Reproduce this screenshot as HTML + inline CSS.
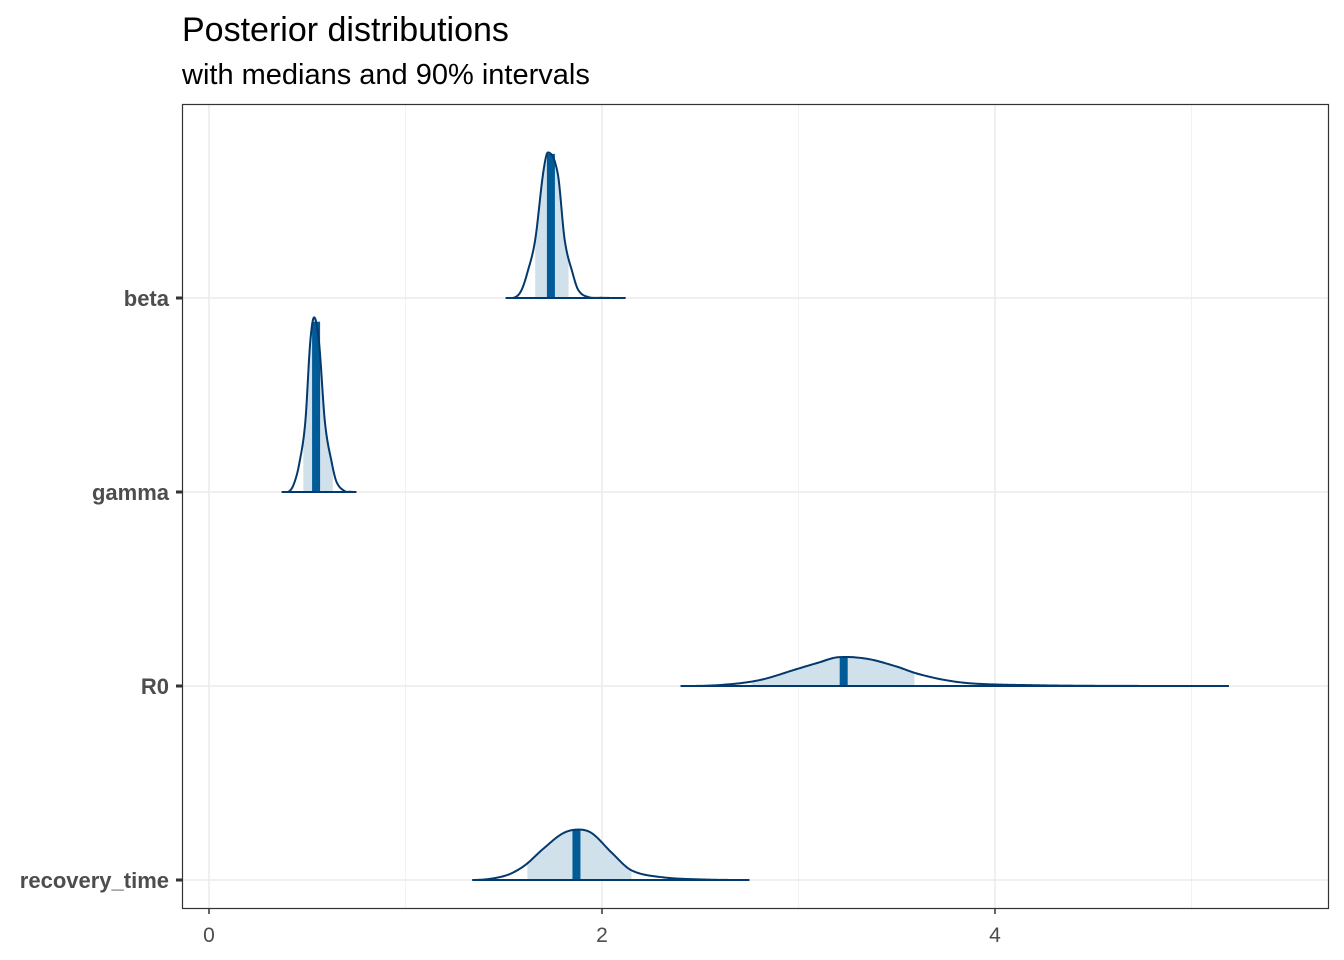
<!DOCTYPE html>
<html><head><meta charset="utf-8"><style>
body{margin:0;background:#fff;}
svg{display:block;font-family:"Liberation Sans",Arial,sans-serif;}
</style></head><body>
<svg id="chart" width="1344" height="960" viewBox="0 0 1344 960">
<rect width="1344" height="960" fill="#fff"/>
<text x="182" y="41" font-size="34" fill="#000">Posterior distributions</text>
<text x="182" y="84" font-size="29" fill="#000">with medians and 90% intervals</text>
<g id="grid"></g>
<g id="marks"></g>
<rect x="182.5" y="104.5" width="1146" height="804" fill="none" stroke="#333" stroke-width="1.2"/>
<g id="axes"></g>
</svg>
<script>
const params=["beta","gamma","R0","recovery_time"];
const xTicks=[0,2,4];
const betaX=[1.51,1.56,1.59,1.62,1.66,1.70,1.725,1.775,1.81,1.85,1.88,1.93,2.0,2.12];
const betaD=[0,0.005,0.04,0.13,0.3,0.64,0.75,0.64,0.3,0.13,0.04,0.005,0.001,0];
const gammaX=[0.37,0.41,0.435,0.46,0.49,0.515,0.535,0.56,0.59,0.625,0.65,0.69,0.72,0.75];
const gammaD=[0,0.005,0.05,0.15,0.36,0.77,0.9,0.77,0.36,0.15,0.05,0.005,0.001,0];
const r0X=[2.4,2.6,2.8,3.0,3.1,3.2,3.35,3.5,3.6,3.75,3.9,4.2,4.5,5.19];
const r0D=[0,0.005,0.03,0.09,0.12,0.148,0.14,0.1,0.065,0.03,0.012,0.004,0.001,0];
const recX=[1.34,1.5,1.6,1.7,1.8,1.88,1.95,2.05,2.15,2.3,2.5,2.75];
const recD=[0,0.02,0.07,0.16,0.24,0.26,0.24,0.14,0.05,0.015,0.003,0];
const medians=[1.74,0.545,3.23,1.87];
const lower90=[1.66,0.48,2.76,1.62];
const upper90=[1.83,0.63,3.59,2.15];

const NS="http://www.w3.org/2000/svg";
const xs=v=>209+v*196.5;
const rowY=i=>298+i*194;
const hs=d=>d*194;
function el(t,a,p){const e=document.createElementNS(NS,t);for(const k in a)e.setAttribute(k,a[k]);p.appendChild(e);return e;}
const grid=document.getElementById('grid'),marks=document.getElementById('marks'),axes=document.getElementById('axes');
[1,3,5].forEach(v=>{const l=el('line',{x1:xs(v),x2:xs(v),y1:104,y2:908,stroke:'#f2f2f2','stroke-width':1},grid);

});
xTicks.forEach(v=>{const l=el('line',{x1:xs(v),x2:xs(v),y1:104,y2:908,stroke:'#ebebeb','stroke-width':1.5},grid);

});
params.forEach((p,i)=>{const l=el('line',{x1:182,x2:1328,y1:rowY(i),y2:rowY(i),stroke:'#ebebeb','stroke-width':1.5},grid);

});
function interp(X,D,x){
 const n=X.length;
 if(x<=X[0])return D[0];if(x>=X[n-1])return D[n-1];
 let k=1;while(x>X[k])k++;
 const x0=X[k-1],x1=X[k],y0=D[k-1],y1=D[k];
 const m=j=>{if(j<=0||j>=n-1)return 0;return (D[j+1]-D[j-1])/(X[j+1]-X[j-1]);};
 const h=x1-x0,t=(x-x0)/h;
 const m0=m(k-1)*h,m1=m(k)*h;
 const t2=t*t,t3=t2*t;
 const v=(2*t3-3*t2+1)*y0+(t3-2*t2+t)*m0+(-2*t3+3*t2)*y1+(t3-t2)*m1;
 return Math.max(0,v);
}
const series=[[betaX,betaD],[gammaX,gammaD],[r0X,r0D],[recX,recD]];
series.forEach(([X,D],i)=>{
 const y0=rowY(i);const g=el('g',{},marks);
 
 
 const N=300;const pts=[];
 for(let k=0;k<=N;k++){const x=X[0]+(X[X.length-1]-X[0])*k/N;pts.push([x,interp(X,D,x)]);}
 const ip=[];const lo=lower90[i],hi=upper90[i];
 for(let k=0;k<=80;k++){const x=lo+(hi-lo)*k/80;ip.push(xs(x)+','+(y0-hs(interp(X,D,x))));}
 const a=el('polygon',{points:xs(lo)+','+y0+' '+ip.join(' ')+' '+xs(hi)+','+y0,fill:'#d1e1ec'},g);
 
 
 const m=medians[i];const mh=hs(interp(X,D,m));
 const r=el('rect',{x:xs(m)-4,y:y0-mh,width:8,height:mh,fill:'#005b96'},g);
 
 
 const pl=el('polyline',{points:pts.map(q=>xs(q[0])+','+(y0-hs(q[1]))).join(' '),fill:'none',stroke:'#03396c','stroke-width':2},g);
 
 
 const b=el('line',{x1:xs(X[0]),x2:xs(X[X.length-1]),y1:y0,y2:y0,stroke:'#03396c','stroke-width':2},g);
 
 
});
params.forEach((p,i)=>{
 const t=el('line',{x1:176,x2:182,y1:rowY(i),y2:rowY(i),stroke:'#333','stroke-width':3},axes);
 
 
 const tx=el('text',{x:169,y:rowY(i)+8,'text-anchor':'end','font-size':22,'font-weight':'bold',fill:'#4d4d4d'},axes);
 tx.textContent=p;
 
 
});
xTicks.forEach(v=>{
 const t=el('line',{x1:xs(v),x2:xs(v),y1:908,y2:914,stroke:'#333','stroke-width':1.5},axes);
 
 
 const tx=el('text',{x:xs(v),y:942,'text-anchor':'middle','font-size':21,fill:'#4d4d4d'},axes);
 tx.textContent=v;
 
 
});
</script>
</body></html>
